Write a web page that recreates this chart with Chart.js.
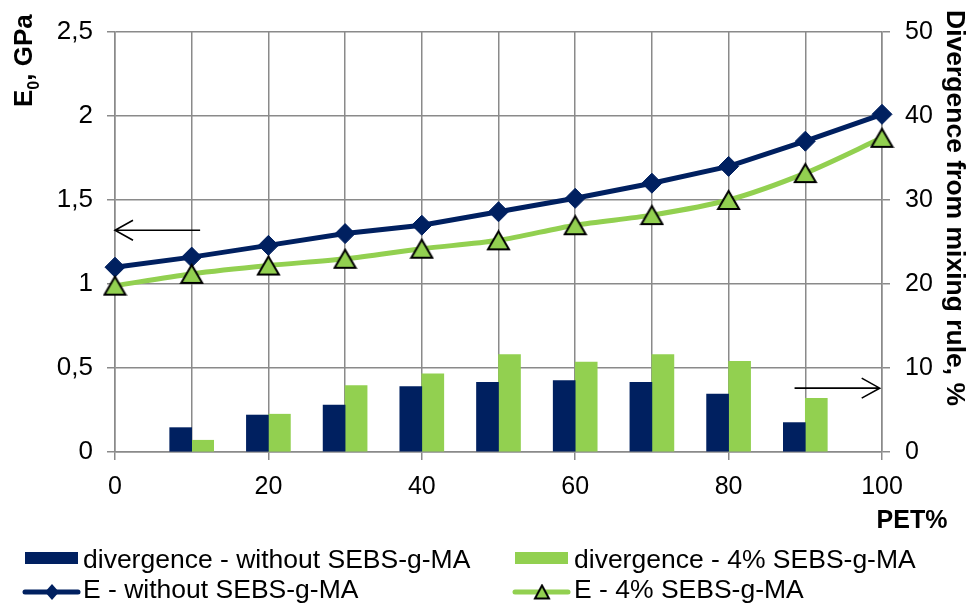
<!DOCTYPE html>
<html>
<head>
<meta charset="utf-8">
<script src="https://cdn.jsdelivr.net/npm/chart.js@4.4.1/dist/chart.umd.min.js"></script>
<style>
  html, body { margin: 0; padding: 0; background: #fff; }
  #wrap { width: 974px; height: 610px; }
</style>
</head>
<body>
<div id="wrap"><canvas id="chart" width="974" height="610"></canvas></div>
<script>
// PET content, %
const petPercent = [0, 10, 20, 30, 40, 50, 60, 70, 80, 90, 100];
// Divergence from the mixing rule, % (pure components have no bar)
const divergenceWithout = [null, 2.9, 4.4, 5.6, 7.8, 8.3, 8.5, 8.3, 6.9, 3.5, null];
const divergence4 = [null, 1.4, 4.5, 7.9, 9.3, 11.6, 10.7, 11.6, 10.8, 6.4, null];
// Young's modulus E0, GPa
const modulusWithout = [1.10, 1.16, 1.23, 1.30, 1.35, 1.43, 1.51, 1.60, 1.70, 1.85, 2.01];
const modulus4 = [0.99, 1.06, 1.11, 1.15, 1.21, 1.26, 1.35, 1.41, 1.50, 1.66, 1.87];
// Labelled ticks
const xTickLabels = [0, 20, 40, 60, 80, 100];
const leftTicks = [0, 0.5, 1, 1.5, 2, 2.5];
const rightTicks = [0, 10, 20, 30, 40, 50];
// Series names
const seriesNames = [
  'divergence - without SEBS-g-MA',
  'divergence - 4% SEBS-g-MA',
  'E - without SEBS-g-MA',
  'E - 4% SEBS-g-MA'
];

const NAVY = '#002060';
const GREEN = '#92D050';
const GRID = '#8a8a8a';
const FONT = '"Liberation Sans", Arial, sans-serif';

// Axis pointer arrows (in data units of the axis they point to)
const arrows = [
  { axis: 'y', y: 1.32, tail: 11.1, tip: 0 },
  { axis: 'y2', y: 7.6, tail: 88.6, tip: 99.7 }
];

// Green triangle marker with black outline, centred on its bounding box
function triangleMarker(w, h, lw) {
  const c = document.createElement('canvas');
  c.width = Math.ceil(w + 2 * lw);
  c.height = Math.ceil(h + 2 * lw);
  const g = c.getContext('2d');
  g.beginPath();
  g.moveTo(c.width / 2, lw);
  g.lineTo(c.width - lw, lw + h);
  g.lineTo(lw, lw + h);
  g.closePath();
  g.fillStyle = GREEN;
  g.fill();
  g.lineWidth = lw;
  g.lineJoin = 'miter';
  g.strokeStyle = '#000';
  g.stroke();
  return c;
}
const triMarker = triangleMarker(21, 18, 2);
const triLegend = triangleMarker(14, 13, 2);

function drawArrow(ctx, tailX, tipX, y) {
  const s = Math.sign(tipX - tailX);
  ctx.beginPath();
  ctx.moveTo(tailX, y);
  ctx.lineTo(tipX, y);
  ctx.moveTo(tipX - s * 18, y - 10);
  ctx.lineTo(tipX, y);
  ctx.lineTo(tipX - s * 18, y + 10);
  ctx.stroke();
}

const decorations = {
  id: 'decorations',
  afterDraw(chart) {
    const ctx = chart.ctx;
    const xs = chart.scales.x;
    ctx.save();
    ctx.fillStyle = '#000';

    // Left axis title: E0, GPa
    ctx.save();
    ctx.translate(32, 107);
    ctx.rotate(-Math.PI / 2);
    ctx.textAlign = 'left';
    ctx.textBaseline = 'alphabetic';
    ctx.font = 'bold 26px ' + FONT;
    ctx.fillText('E', 0, 0);
    let w = ctx.measureText('E').width;
    ctx.font = 'bold 16px ' + FONT;
    ctx.fillText('0', w, 7);
    w += ctx.measureText('0').width;
    ctx.font = 'bold 26px ' + FONT;
    ctx.fillText(', GPa', w, 0);
    ctx.restore();

    // Right axis title
    ctx.save();
    ctx.translate(947, 10);
    ctx.rotate(Math.PI / 2);
    ctx.textAlign = 'left';
    ctx.textBaseline = 'alphabetic';
    ctx.font = 'bold 26.5px ' + FONT;
    ctx.fillText('Divergence from mixing rule, %', 0, 0);
    ctx.restore();

    // X axis title
    ctx.font = 'bold 25px ' + FONT;
    ctx.textAlign = 'center';
    ctx.textBaseline = 'middle';
    ctx.fillText('PET%', 912, 521);

    // Arrows pointing to the relevant axis
    ctx.strokeStyle = '#000';
    ctx.lineWidth = 1.6;
    arrows.forEach(a => {
      const ys = chart.scales[a.axis];
      drawArrow(ctx, xs.getPixelForValue(a.tail), xs.getPixelForValue(a.tip), ys.getPixelForValue(a.y));
    });

    // Legend (two columns, two rows)
    const ds = chart.data.datasets;
    const cols = [{ sym: 25, text: 83 }, { sym: 515, text: 574 }];
    const rows = [568, 598];
    ctx.font = '26.5px ' + FONT;
    ctx.textAlign = 'left';
    ctx.textBaseline = 'alphabetic';
    ds.forEach((d, i) => {
      const col = cols[i % 2];
      const base = rows[Math.floor(i / 2)];
      if (d.type === 'bar') {
        ctx.fillStyle = d.backgroundColor;
        ctx.fillRect(col.sym, base - 16, 53, 12);
      } else {
        const cy = base - 6;
        ctx.strokeStyle = d.borderColor;
        ctx.lineWidth = 5;
        ctx.lineCap = 'round';
        ctx.beginPath();
        ctx.moveTo(col.sym, cy);
        ctx.lineTo(col.sym + 53, cy);
        ctx.stroke();
        const cx = col.sym + 27;
        if (d.pointStyle === 'rectRot') {
          ctx.fillStyle = d.pointBackgroundColor;
          ctx.beginPath();
          ctx.moveTo(cx - 7, cy);
          ctx.lineTo(cx, cy - 8);
          ctx.lineTo(cx + 7, cy);
          ctx.lineTo(cx, cy + 8);
          ctx.closePath();
          ctx.fill();
        } else {
          ctx.drawImage(triLegend, cx - triLegend.width / 2, cy - triLegend.height / 2);
        }
      }
      ctx.fillStyle = '#000';
      ctx.fillText(d.label, col.text, base);
    });
    ctx.restore();
  }
};

new Chart(document.getElementById('chart'), {
  data: {
    labels: petPercent,
    datasets: [
      {
        type: 'bar', label: seriesNames[0], data: divergenceWithout, yAxisID: 'y2',
        backgroundColor: NAVY, borderWidth: 0, barThickness: 22, order: 2
      },
      {
        type: 'bar', label: seriesNames[1], data: divergence4, yAxisID: 'y2',
        backgroundColor: GREEN, borderWidth: 0, barThickness: 22, order: 2
      },
      {
        type: 'line', label: seriesNames[2], data: modulusWithout, yAxisID: 'y',
        borderColor: NAVY, borderWidth: 5, tension: 0, clip: false,
        pointStyle: 'rectRot', pointRadius: 10, pointBackgroundColor: NAVY,
        pointBorderColor: NAVY, pointBorderWidth: 1, order: 1
      },
      {
        type: 'line', label: seriesNames[3], data: modulus4, yAxisID: 'y',
        borderColor: GREEN, borderWidth: 5, tension: 0.3, clip: false,
        pointStyle: triMarker, pointRadius: 12, order: 0
      }
    ]
  },
  options: {
    responsive: false,
    animation: false,
    devicePixelRatio: 1,
    layout: { padding: { top: 32, left: 0, right: 0, bottom: 0 } },
    plugins: { legend: { display: false }, tooltip: { enabled: false } },
    scales: {
      x: {
        type: 'linear', min: 0, max: 100, offset: false,
        grid: {
          color: GRID, lineWidth: 1.5, tickLength: 8, offset: false,
          tickColor: c => (c.tick && xTickLabels.includes(Math.round(c.tick.value))) ? GRID : 'rgba(0,0,0,0)'
        },
        border: { color: GRID, width: 1.5 },
        ticks: {
          stepSize: 10, autoSkip: false, maxRotation: 0, padding: 12, color: '#000',
          font: { family: FONT, size: 25 },
          callback: v => xTickLabels.includes(Math.round(v)) ? String(Math.round(v)) : ''
        },
        afterFit: s => { s.height = 158; }
      },
      y: {
        position: 'left', min: 0, max: 2.5,
        grid: { color: GRID, lineWidth: 1.5, tickLength: 8, tickColor: GRID },
        border: { color: GRID, width: 1.5 },
        ticks: {
          stepSize: 0.5, padding: 14, color: '#000', font: { family: FONT, size: 26 },
          callback: v => {
            const t = leftTicks.find(k => Math.abs(k - v) < 1e-6);
            return t === undefined ? '' : String(t).replace('.', ',');
          }
        },
        afterFit: s => { s.width = 115; }
      },
      y2: {
        position: 'right', min: 0, max: 50,
        grid: { drawOnChartArea: false, color: GRID, lineWidth: 1.5, tickLength: 8, tickColor: GRID },
        border: { color: GRID, width: 1.5 },
        ticks: {
          stepSize: 10, padding: 15, color: '#000', font: { family: FONT, size: 25 },
          callback: v => rightTicks.includes(Math.round(v)) ? String(Math.round(v)) : ''
        },
        afterFit: s => { s.width = 92; }
      }
    }
  },
  plugins: [decorations]
});
</script>
</body>
</html>
